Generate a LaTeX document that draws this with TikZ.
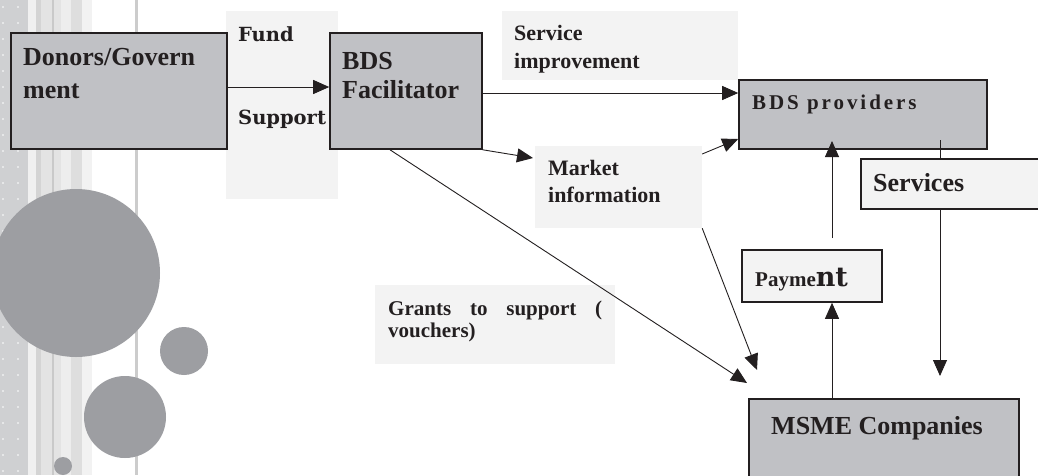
\documentclass[tikz,border=0pt]{standalone}
\usepackage{fontspec}
\newfontfamily\tnr{Liberation Serif}
\newfontfamily\slab{DejaVu Serif}
\usetikzlibrary{arrows.meta,calc}
\definecolor{boxgray}{HTML}{C0C1C5}
\definecolor{panelgray}{HTML}{F3F3F3}
\definecolor{dotgray}{HTML}{CFD0D2}
\definecolor{discgray}{HTML}{9D9EA2}
\definecolor{inkblack}{HTML}{231F20}

\begin{document}
\begin{tikzpicture}[x=1pt, y=-1pt,
  box/.style={draw=inkblack, line width=1.6pt, fill=boxgray, inner sep=0pt},
  lightbox/.style={box, fill=panelgray},
  panel/.style={fill=panelgray, inner sep=0pt},
  disc/.style={fill=discgray},
  lbl/.style={text=inkblack, anchor=base west, inner sep=0pt, align=left},
  flow/.style={draw=inkblack, line width=0.9pt, -{Triangle[width=14pt,length=16pt]}}]
  \useasboundingbox (0,0) rectangle (1038,475);
  \fill[white] (0,0) rectangle (1038,475);

  % stripes on the left edge
  \fill[dotgray] (0,0) rectangle (28,475);
  \foreach \y in {7,23,...,471}{
    \fill[white] (3,\y) circle (0.9);
    \fill[white] (18,\y) circle (0.9);
  }
  \fill[black!6] (28,0) rectangle (36,475);
  \fill[black!17] (36,0) rectangle (41,475);
  \fill[black!11] (41,0) rectangle (52,475);
  \fill[black!21] (52,0) rectangle (54,475);
  \fill[black!11] (54,0) rectangle (61,475);
  \fill[black!7] (61,0) rectangle (71,475);
  \fill[black!13] (71,0) rectangle (82,475);
  \fill[black!5] (82,0) rectangle (92,475);
  \fill[black!20] (135,0) rectangle (138,475);

  % grey discs
  \fill[disc] (76,273) circle (84);
  \fill[disc] (184,351) circle (24);
  \fill[disc] (125,417) circle (41);
  \fill[disc] (63,466) circle (9);

  % label panels
  \node[panel, minimum width=112, minimum height=188] (fundp) at (282,105) {};
  \node[panel, minimum width=236, minimum height=69] (impp) at (620,45.5) {};
  \node[panel, minimum width=167, minimum height=82] (mkt) at (618.5,187) {};
  \node[panel, minimum width=240, minimum height=79] (grantp) at (495,324.5) {};

  % boxes
  \node[box, minimum width=216, minimum height=116] (donor) at (119,91) {};
  \node[box, minimum width=152, minimum height=116] (fac) at (406,91) {};
  \node[box, minimum width=248, minimum height=69] (prov) at (863,114.5) {};
  \node[lightbox, minimum width=140, minimum height=52] (pay) at (812,276) {};
  \node[box, minimum width=270, minimum height=91] (msme) at (884,444.5) {};

  % free ends
  \coordinate (mktin) at (533,158);
  \coordinate (mktout) at (757,370);
  \coordinate (grantout) at (747,383);
  \coordinate (provtap) at (940,140);
  \coordinate (svcout) at (940,376);
  \coordinate (paytop) at (832,238);
  \coordinate (provbase) at (832,141);

  % connectors
  \draw[flow] (donor.east |- 0,87) -- (fac.west |- 0,87);
  \draw[flow] (fac.east |- 0,93) -- (prov.west |- 0,93);
  \draw[flow] (fac.south east) -- (mktin);
  \draw[flow] (mkt.east |- 0,154) -- (prov.west |- 0,139);
  \draw[flow] (mkt.south east) -- (mktout);
  \draw[flow] (fac.south -| 390,0) -- (grantout);
  \draw[flow] (provtap) -- (svcout);
  \draw[flow] (msme.north -| 832,0) -- (pay.south -| 832,0);
  \draw[flow] (paytop) -- (provbase);

  \node[lightbox, minimum width=184, minimum height=50] (serv) at (953,184) {};

  % texts (base = last line, first line with text width)
  \node[lbl, font=\tnr\bfseries\fontsize{26}{33}\selectfont] (donort) at (23,98) {Donors/Govern\\ment};
  \node[lbl, font=\slab\bfseries\fontsize{19.5}{19.5}\selectfont] (fundt) at (238,41) {Fund};
  \node[lbl, font=\slab\bfseries\fontsize{19.5}{19.5}\selectfont] (suppt) at (238,124) {Support};
  \node[lbl, font=\tnr\bfseries\fontsize{26}{29}\selectfont] (fact) at (342,98) {BDS\\Facilitator};
  \node[lbl, font=\tnr\bfseries\fontsize{22}{28}\selectfont] (impt) at (514,68) {Service\\improvement};
  \node[lbl, font=\tnr\bfseries\fontsize{22}{27}\selectfont] (mktt) at (548,202) {Market\\information};
  \node[lbl, font=\tnr\bfseries\fontsize{21}{21}\selectfont\addfontfeature{LetterSpace=14}] (provt) at (752,109) {BDS providers};
  \node[lbl, font=\tnr\bfseries\fontsize{26}{26}\selectfont] (servt) at (873,191) {Services};
  \node[lbl] (payt) at (755,286) {{\tnr\bfseries\fontsize{21}{21}\selectfont Payme}{\slab\bfseries\fontsize{27}{27}\selectfont nt}};
  \node[lbl, font=\tnr\bfseries\fontsize{26}{26}\selectfont] (msmet) at (771,434) {MSME Companies};
  \node[lbl, text width=214, font=\tnr\bfseries\fontsize{21}{22}\selectfont] (grantt) at (388,315) {Grants\hfill to\hfill support\hfill (\\vouchers)};
\end{tikzpicture}
\end{document}
